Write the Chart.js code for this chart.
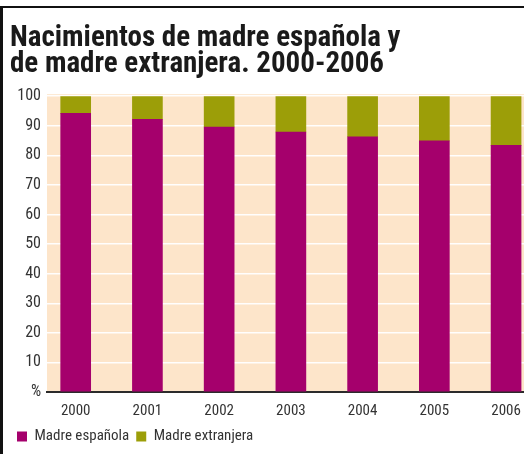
<!DOCTYPE html>
<html>
<head>
<meta charset="utf-8">
<script src="https://cdn.jsdelivr.net/npm/chart.js@4"></script>
<style>
  html, body { margin: 0; padding: 0; background: #fff; }
  #wrap { position: relative; width: 524px; height: 454px; overflow: hidden; }
  #topline { position: absolute; left: 0; top: 6px; width: 524px; height: 2px; background: #111; }
  #leftline { position: absolute; left: 0; top: 6px; width: 3px; height: 448px; background: #111; }
  canvas { position: absolute; left: 3px; top: 0; }
</style>
</head>
<body>
<div id="wrap">
  <canvas id="births" width="521" height="454"></canvas>
  <div id="topline"></div>
  <div id="leftline"></div>
</div>
<script>
const years = ["2000", "2001", "2002", "2003", "2004", "2005", "2006"];
const madreEspanola = [94.2, 92.2, 89.6, 87.9, 86.3, 84.9, 83.4];
const madreExtranjera = [5.8, 7.8, 10.4, 12.1, 13.7, 15.1, 16.6];
const yTicks = [0, 10, 20, 30, 40, 50, 60, 70, 80, 90, 100];

const condensed = "'Liberation Sans Narrow', 'Roboto Condensed', 'DejaVu Sans Condensed', sans-serif";

const plotBackground = {
  id: "plotBackground",
  beforeDraw: (chart) => {
    const { ctx, chartArea } = chart;
    ctx.save();
    ctx.fillStyle = "#fde5ca";
    ctx.fillRect(chartArea.left, chartArea.top - 2, chartArea.right - chartArea.left, chartArea.bottom - chartArea.top + 2);
    ctx.restore();
  },
};

const ctx = document.getElementById("births").getContext("2d");

new Chart(ctx, {
  type: "bar",
  data: {
    datasets: [
      {
        label: "Madre española",
        data: madreEspanola.map((v, i) => ({ x: i, y: v })),
        backgroundColor: "#a5006c",
        barThickness: 30,
      },
      {
        label: "Madre extranjera",
        data: madreExtranjera.map((v, i) => ({ x: i, y: v })),
        backgroundColor: "#9c9e08",
        barThickness: 30,
      },
    ],
  },
  options: {
    responsive: false,
    animation: false,
    layout: { padding: { left: 7, right: 0, top: 0, bottom: 0 } },
    plugins: {
      tooltip: { enabled: false },
      title: {
        display: true,
        text: ["Nacimientos de madre española y", "de madre extranjera. 2000-2006"],
        align: "start",
        color: "#1a1a1a",
        font: { family: condensed, size: 29, weight: "bold", lineHeight: 0.9 },
        padding: { top: 26, bottom: 18 },
      },
      legend: {
        position: "bottom",
        align: "start",
        labels: {
          color: "#333",
          font: { family: condensed, size: 15 },
          boxWidth: 10,
          boxHeight: 10,
          padding: 7,
        },
      },
    },
    scales: {
      x: {
        type: "linear",
        stacked: true,
        offset: false,
        min: -0.4,
        max: 6.25,
        grid: { display: false, drawTicks: false },
        border: { display: true, color: "#2b2b2b", width: 2 },
        afterBuildTicks: (scale) => {
          scale.ticks = years.map((y, i) => ({ value: i }));
        },
        ticks: {
          color: "#333",
          font: { family: condensed, size: 15 },
          padding: 10,
          maxRotation: 0,
          autoSkip: false,
          callback: (value) => years[value],
        },
        afterFit: (scale) => {
          scale.height = 30;
          scale.paddingLeft = 0;
          scale.paddingRight = 0;
        },
      },
      y: {
        stacked: true,
        min: 0,
        max: 100,
        afterBuildTicks: (scale) => {
          scale.ticks = yTicks.map((v) => ({ value: v }));
        },
        grid: { color: "rgba(255,255,255,0.95)", lineWidth: 1.5, drawTicks: false },
        border: { display: false },
        ticks: {
          color: "#333",
          font: { family: condensed, size: 16 },
          padding: 6,
          callback: (value) => (value === 0 ? "%" : value),
        },
        afterFit: (scale) => { scale.width = 37; },
      },
    },
  },
  plugins: [plotBackground],
});
</script>
</body>
</html>
